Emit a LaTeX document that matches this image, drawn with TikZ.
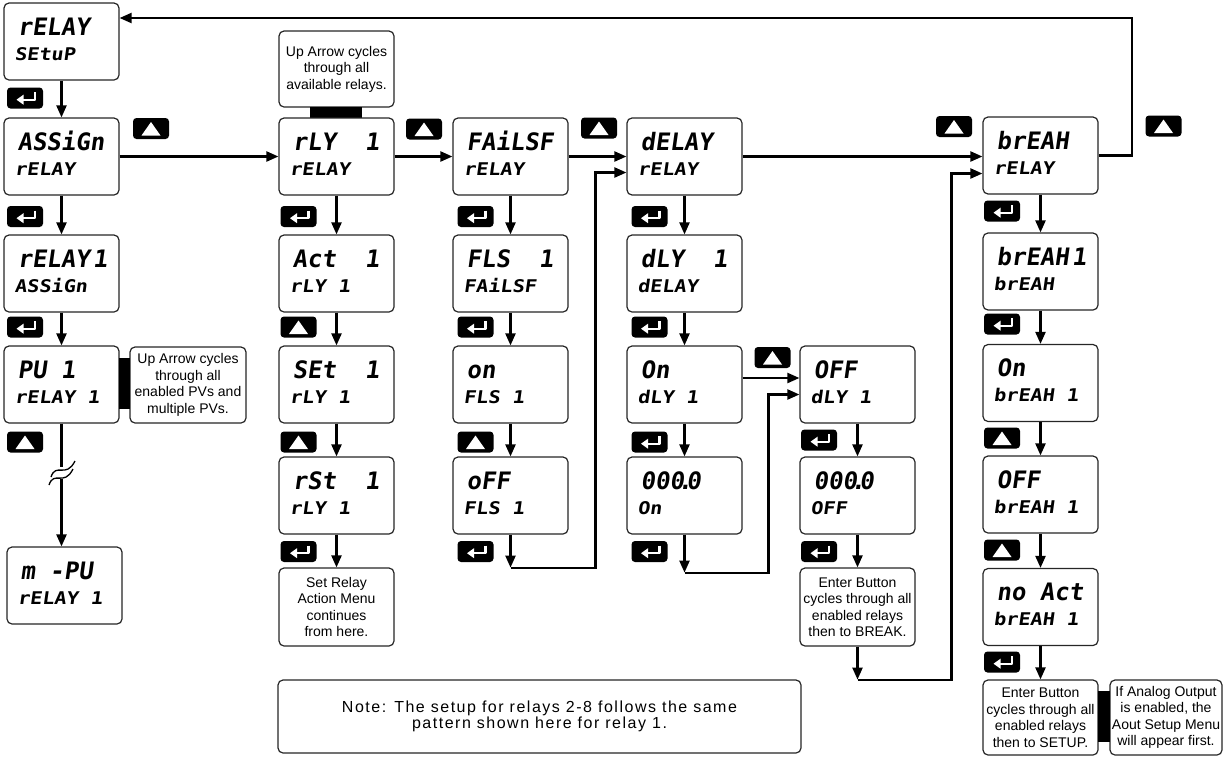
\documentclass[tikz,border=0pt]{standalone}
\usepackage{fontspec}
\setmainfont{Liberation Sans}
\newfontfamily\segbig{DejaVu Sans Mono Bold}[FakeSlant=0.14]
\newfontfamily\segsmall{DejaVu Sans Mono Bold}[FakeSlant=0.14,FakeStretch=1.15]
\usetikzlibrary{arrows.meta}
\newcommand\segA[1]{{\segbig\fontsize{24}{24}\selectfont #1}}
\newcommand\segB[1]{{\segsmall\fontsize{17.5}{17.5}\selectfont #1}}
\newcommand\notefont{\fontsize{14}{16.5}\selectfont}
\newcommand\bignotefont{\fontsize{16}{16.5}\selectfont\addfontfeature{LetterSpace=9.5}}
\newcommand\zerodisp{000\kern-6pt.\kern-6pt0}
\tikzset{
  disp/.style={draw=black!85, line width=1.2pt, rounded corners=5pt, fill=white,
    minimum width=115pt, minimum height=77pt, inner sep=0pt},
  notebox/.style={draw=black!85, line width=1.2pt, rounded corners=5pt, fill=white,
    minimum width=115pt, minimum height=78pt, inner sep=0pt, align=center, font=\notefont},
  keybox/.style={fill=black, rounded corners=3.5pt, minimum width=36pt, minimum height=21pt, inner sep=0pt},
  conn/.style={line width=2.2pt, -{Triangle[length=12pt,width=10pt]}},
  wire/.style={line width=2.2pt},
  segtext/.style={anchor=base west, inner sep=0pt}
}
\newcommand\dispbox[5]{%
  \node[disp] (#1) at (#2,#3) {};
  \node[segtext] (#1-a) at ([shift={(14,33)}]#1.north west) {\segA{#4}};
  \node[segtext] (#1-b) at ([shift={(11,58)}]#1.north west) {\segB{#5}};
}
\newcommand\enterkey[3]{%
  \node[keybox] (#1) at (#2,#3) {};
  \begin{scope}[shift={(#2,#3)}]
    \draw[white, line width=2.4pt, line join=round] (10,-6) -- (10,1.7) -- (-2,1.7);
    \fill[white] (-8.5,1.7) -- (-1.5,-3.3) -- (-1.5,6.7) -- cycle;
  \end{scope}}
\newcommand\upkey[3]{%
  \node[keybox] (#1) at (#2,#3) {};
  \begin{scope}[shift={(#2,#3)}]
    \fill[white] (0,-6.5) -- (9.5,7) -- (-9.5,7) -- cycle;
  \end{scope}}
\begin{document}
\begin{tikzpicture}[x=1pt,y=-1pt]
\useasboundingbox (0,0) rectangle (1225,756);

% column 1
\dispbox{a1}{61.5}{41.5}{rELAY}{SEtuP}
\dispbox{a2}{61.5}{156.5}{ASSiGn}{rELAY}
\dispbox{a3}{61.5}{273.5}{rELAY\kern3pt 1}{ASSiGn}
\dispbox{a4}{61.5}{384.5}{PU~1}{rELAY~1}
\dispbox{a5}{64.5}{585.5}{m~-PU}{rELAY~1}
\node[notebox, minimum width=116pt, minimum height=76pt] (pn) at (188,385)
  {Up Arrow cycles\\through all\\enabled PVs and\\multiple PVs.};
\fill[black] (119,358) rectangle (130,409);

% column 2
\node[notebox, minimum height=76pt] (b0) at (336.5,69) {Up Arrow cycles\\through all\\available relays.};
\fill[black] (310,107) rectangle (362,118);
\dispbox{b1}{336.5}{156.5}{rLY~~1}{rELAY}
\dispbox{b2}{336.5}{273.5}{Act~~1}{rLY~1}
\dispbox{b3}{336.5}{384.5}{SEt~~1}{rLY~1}
\dispbox{b4}{336.5}{495.5}{rSt~~1}{rLY~1}
\node[notebox] (b5) at (336.5,607) {Set Relay\\Action Menu\\continues\\from here.};

% column 3
\dispbox{c1}{510.5}{156.5}{FAiLSF}{rELAY}
\dispbox{c2}{510.5}{273.5}{FLS~~1}{FAiLSF}
\dispbox{c3}{510.5}{384.5}{on}{FLS~1}
\dispbox{c4}{510.5}{495.5}{oFF}{FLS~1}

% column 4
\dispbox{d1}{684.5}{156.5}{dELAY}{rELAY}
\dispbox{d2}{684.5}{273.5}{dLY~~1}{dELAY}
\dispbox{d3}{684.5}{384.5}{On}{dLY~1}
\dispbox{d4}{684.5}{495.5}{\zerodisp}{On}

% column 5
\dispbox{e1}{857.5}{384.5}{OFF}{dLY~1}
\dispbox{e2}{857.5}{495.5}{\zerodisp}{OFF}
\node[notebox] (e3) at (857.5,607) {Enter Button\\cycles through all\\enabled relays\\then to BREAK.};

% column 6
\dispbox{f1}{1040.5}{155.5}{brEAH}{rELAY}
\dispbox{f2}{1040.5}{271.5}{brEAH\kern3pt 1}{brEAH}
\dispbox{f3}{1040.5}{383}{On}{brEAH~1}
\dispbox{f4}{1040.5}{494.5}{OFF}{brEAH~1}
\dispbox{f5}{1040.5}{607}{no~Act}{brEAH~1}
\node[notebox, minimum height=75pt] (f6) at (1040.5,717.5) {Enter Button\\cycles through all\\enabled relays\\then to SETUP.};
\node[notebox, minimum width=112pt, minimum height=75pt] (f7) at (1166,717.5) {If Analog Output\\is enabled, the\\Aout Setup Menu\\will appear first.};
\fill[black] (1098,691) rectangle (1110,742);

% big note
\node[notebox, minimum width=523pt, minimum height=73pt, font=\bignotefont] (nt) at (539.5,716.5)
  {Note: The setup for relays 2-8 follows the same\\pattern shown here for relay 1.};

% keys
\enterkey{k1}{25}{98}
\enterkey{k2}{25}{216.5}
\enterkey{k3}{25}{327}
\upkey{k4}{25}{442}
\enterkey{k5}{298.5}{216.5}
\upkey{k6}{298.5}{327}
\upkey{k7}{298.5}{442}
\enterkey{k8}{298.5}{551.5}
\enterkey{k9}{475.5}{216.5}
\enterkey{k10}{475.5}{327}
\upkey{k11}{475.5}{442}
\enterkey{k12}{475.5}{551.5}
\enterkey{k13}{649.5}{216.5}
\enterkey{k14}{649.5}{327}
\enterkey{k15}{649.5}{442}
\enterkey{k16}{649.5}{551.5}
\enterkey{k17}{819}{440}
\enterkey{k18}{819}{551.5}
\enterkey{k19}{1002}{211}
\enterkey{k20}{1002}{324}
\upkey{k21}{1002}{438}
\upkey{k22}{1002}{550}
\enterkey{k23}{1002}{662}
\upkey{h1}{151}{128.5}
\upkey{h2}{424}{129}
\upkey{h3}{599}{128}
\upkey{h4}{954}{126.5}
\upkey{h5}{1163.5}{126}
\upkey{h6}{772.5}{357.5}

% connectors column 1
\draw[conn] (a1.south) -- (a2.north);
\draw[conn] (a2.south) -- (a3.north);
\draw[conn] (a3.south) -- (a4.north);
\draw[wire] (a4.south) -- (61.5,467) coordinate (brkA);
\coordinate (brkB) at (61.5,479);
\draw[conn] (brkB) -- (brkB |- a5.north);
\draw[line width=1.3pt] (51,477) .. controls (56,462) and (66,479) .. (75,461);
\draw[line width=1.3pt] (49,485) .. controls (54,470) and (64,487) .. (73,469);

% horizontal chain
\draw[conn] (a2.east) -- (b1.west);
\draw[conn] (b1.east) -- (c1.west);
\draw[conn] (c1.east) -- (d1.west |- c1.east);
\draw[conn] (d1.east) -- (f1.west |- d1.east);
\coordinate (topR) at (1132,18);
\draw[conn] (f1.east) -| (topR) -- (topR -| a1.east);

% column 2
\draw[conn] (b1.south) -- (b2.north);
\draw[conn] (b2.south) -- (b3.north);
\draw[conn] (b3.south) -- (b4.north);
\draw[conn] (b4.south) -- (b5.north);

% column 3
\draw[conn] (c1.south) -- (c2.north);
\draw[conn] (c2.south) -- (c3.north);
\draw[conn] (c3.south) -- (c4.north);
\draw[conn] (c4.south) -- ++(0,33) coordinate (l3a);
\draw[conn] (l3a) -- ++(85,0) |- ([shift={(0,16)}]d1.west);

% column 4
\draw[conn] (d1.south) -- (d2.north);
\draw[conn] (d2.south) -- (d3.north);
\draw[conn] (d3.south) -- (d4.north);
\draw[conn] ([shift={(0,-6.5)}]d3.east) -- ([shift={(0,-6.5)}]e1.west);
\draw[conn] (d4.south) -- ++(0,38) coordinate (l4a);
\draw[conn] (l4a) -- ++(84,0) |- ([shift={(0,10)}]e1.west);

% column 5
\draw[conn] (e1.south) -- (e2.north);
\draw[conn] (e2.south) -- (e3.north);
\draw[conn] (e3.south) -- ++(0,33) coordinate (l5a);
\draw[conn] (l5a) -- ++(94,0) |- ([shift={(0,18)}]f1.west);

% column 6
\draw[conn] (f1.south) -- (f2.north);
\draw[conn] (f2.south) -- (f3.north);
\draw[conn] (f3.south) -- (f4.north);
\draw[conn] (f4.south) -- (f5.north);
\draw[conn] (f5.south) -- (f6.north);
\end{tikzpicture}
\end{document}
